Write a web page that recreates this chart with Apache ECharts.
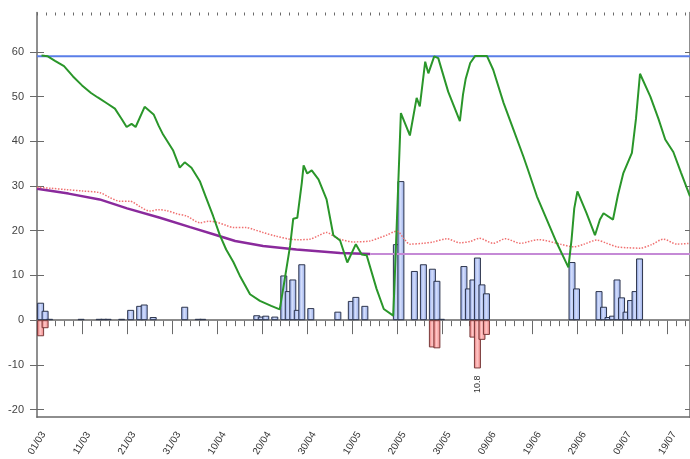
<!DOCTYPE html>
<html><head><meta charset="utf-8">
<script src="https://cdn.jsdelivr.net/npm/echarts@6/dist/echarts.min.js"></script>
<style>html,body{margin:0;padding:0;background:#fff}#c{width:690px;height:459px}</style>
</head><body><div id="c"></div>
<script>
// x values are days counted from 01/03
const xTickDays = [0,10,20,30,40,50,60,70,80,90,100,110,120,130,140];
const yTickValues = [-20,-10,0,10,20,30,40,50,60];

const blueBarDays   = [0,1,2,9,13,14,15,18,20,22,23,25,32,35,36,48,49,50,52,54,55,56,57,58,60,66,69,70,72,79,80,83,85,87,88,89,94,95,96,97,98,99,118,119,124,125,126,127,128,129,130,131,132,133];
const blueBarValues = [3.9,2.1,0.3,0.3,0.3,0.3,0.3,0.3,2.3,3.2,3.5,0.7,3.0,0.3,0.3,1.1,0.8,1.0,0.8,10.0,6.5,9.1,2.3,12.5,2.7,1.9,4.3,5.2,3.2,17.0,31.1,11.0,12.5,11.5,8.8,0.3,12.1,7.1,9.1,14.0,8.0,6.0,13.0,7.1,6.5,3.0,0.7,1.0,9.1,5.1,1.9,4.5,6.5,13.8];

const redBarDays   = [0,1,87,88,96,97,98,99];
const redBarValues = [-3.6,-1.8,-6.1,-6.3,-3.9,-10.8,-4.4,-3.3];
const labelledRedDays = [97];

const maxLevel = 59;

const greenLine = [[1,59.2],[2.4,59],[4,58],[6,56.8],[8,54.5],[10,52.5],[12,50.8],[13.5,49.8],[15.5,48.5],[17.3,47.3],[18.8,45],[19.9,43.2],[21,43.9],[21.9,43.2],[23.9,47.7],[25.9,46],[27,43.5],[28,41.5],[30.2,38],[31.7,34.1],[32.8,35.3],[34.3,34.1],[36.2,31],[37.5,27.5],[39.1,23.3],[40.6,19],[42,15.8],[43.6,13],[45,10],[47.3,5.8],[49.5,4.3],[52,3.2],[53.9,2.4],[55,9.1],[56.2,16.6],[56.9,22.7],[57.8,22.9],[58.8,30.7],[59.2,34.6],[60,32.8],[61,33.5],[62.5,31.5],[64.3,27],[65.8,19],[67.3,17.8],[68.9,12.9],[70.8,17],[72.1,14.7],[73.2,14.5],[75.4,7],[77,2.5],[79.1,1],[79.5,11],[80.2,30],[80.8,46.3],[82.8,41.3],[84.3,49.7],[85,47.8],[86.2,57.8],[86.9,55.2],[88.2,59],[89.1,58.6],[91.3,51.1],[93.9,44.5],[94.6,50.5],[95.2,54],[96.2,57.5],[97.3,59.1],[99.9,59.1],[101.3,56],[103.6,48.6],[105.8,42.6],[108,36.6],[109,33.7],[111,27.7],[113.2,22.5],[115.4,17.3],[118,11.8],[118.7,18],[119.3,25],[120,28.8],[122,24],[123.9,19],[125,22.5],[125.8,23.9],[127.9,22.5],[129,28],[130.2,32.9],[132.1,37.4],[133,45],[133.9,55.1],[136.2,50],[138,45],[139.5,40.4],[141.3,37.6],[143,33],[145,27.7]];

const purpleLine = [[0,29.4],[7,28.3],[13.9,27.0],[20,25],[27.3,22.9],[34,20.8],[39.9,19.0],[44,17.7],[50.2,16.6],[57.6,15.8],[67.3,15.0],[74,14.8]];
const lightPurpleLine = [[74,14.8],[145,14.8]];

const redDottedLine = [[0,29.7],[3,29.5],[6.5,29.2],[10,28.9],[14,28.5],[16,27.5],[18.4,26.6],[20.6,26.6],[23,25.3],[25,24.4],[27,24.7],[28.8,24.5],[31,23.8],[33.2,23.3],[36.2,21.8],[38,22.1],[39.9,21.9],[42,21.2],[43.6,20.7],[46.5,20.7],[48,20.3],[50.2,19.6],[53,18.8],[56.2,18.1],[58,18.0],[60.6,18.1],[62.5,18.9],[64.3,19.6],[66,18.7],[67.3,18.1],[70.2,17.5],[73.9,17.7],[76,18.4],[77.6,19.0],[79.9,19.9],[81.5,18.2],[82.8,17.0],[85.8,17.2],[88,17.5],[91,18.2],[93.9,17.3],[96.2,17.6],[98.2,18.3],[101.3,17.2],[104,18.2],[107.3,17.2],[111.3,18.0],[116.2,17.0],[119.1,16.4],[121.5,17.0],[124.3,17.9],[126.5,17.2],[128.8,16.4],[131,16.2],[133.9,16.1],[136.5,16.9],[139.1,18.1],[142.1,17.0],[145,17.2]];

const X_MIN = 0, X_MAX = 145, Y_MIN = -21.7, Y_MAX = 68.8;
const BAR_SHIFT = 0.8; // a day's bar sits within its day
const base = Date.UTC(2021, 2, 1);
const pad = n => (n < 10 ? '0' : '') + n;
function fmtDay(d) { const t = new Date(base + d * 86400000); return pad(t.getUTCDate()) + '/' + pad(t.getUTCMonth() + 1); }
const minorDays = []; for (let d = 0; d <= 144; d += 2) minorDays.push(d);

const AX = '#6a6a6a';
const blueFill = new echarts.graphic.LinearGradient(0,0,1,0,[{offset:0,color:'#7f98de'},{offset:0.45,color:'#d4defc'},{offset:1,color:'#93a9e8'}]);
const redFill = new echarts.graphic.LinearGradient(0,0,1,0,[{offset:0,color:'#e36a6a'},{offset:0.45,color:'#ffc8c8'},{offset:1,color:'#ec8080'}]);

function tickAxis(pos, offset, vals, len, inside, showLine) {
  return { type:'value', position:pos, offset:offset, min:X_MIN, max:X_MAX,
    axisLine:{show:!!showLine, lineStyle:{color:AX, width:1.5}},
    axisTick:{show:true, customValues:vals, length:len, inside:!!inside, lineStyle:{color:AX, width:1}},
    axisLabel:{show:false}, splitLine:{show:false} };
}

const option = {
  animation:false,
  backgroundColor:'#ffffff',
  grid:{left:37, right:-1, top:12.5, bottom:40.5},
  xAxis:[
    { type:'value', position:'bottom', min:X_MIN, max:X_MAX,
      axisLine:{show:true, onZero:false, lineStyle:{color:AX, width:1.5}},
      axisTick:{show:false},
      axisLabel:{show:true, customValues:xTickDays, formatter:v=>fmtDay(v), rotate:58, align:'center', verticalAlign:'middle', margin:26, fontSize:10, color:'#333', fontFamily:'Liberation Sans, Arial, sans-serif'},
      splitLine:{show:false} },
    tickAxis('bottom', -7, xTickDays, 14, false, false),
    tickAxis('bottom', -3, minorDays, 6, false, false),
    tickAxis('top', 0, xTickDays, 6, true, true),
    tickAxis('top', 0, minorDays, 3, true, false)
  ],
  yAxis:[
    { type:'value', position:'left', min:Y_MIN, max:Y_MAX,
      axisLine:{show:true, onZero:false, lineStyle:{color:AX, width:1.5}},
      axisTick:{show:false},
      axisLabel:{show:true, customValues:yTickValues, margin:13, fontSize:11, color:'#444', fontFamily:'Liberation Sans, Arial, sans-serif'},
      splitLine:{show:false} },
    { type:'value', position:'left', offset:-7, min:Y_MIN, max:Y_MAX,
      axisLine:{show:false}, axisTick:{show:true, customValues:yTickValues, length:14, lineStyle:{color:AX, width:1}},
      axisLabel:{show:false}, splitLine:{show:false} },
    { type:'value', position:'right', min:Y_MIN, max:Y_MAX,
      axisLine:{show:true, onZero:false, lineStyle:{color:AX, width:1.5}},
      axisTick:{show:true, inside:true, customValues:yTickValues, length:5, lineStyle:{color:AX, width:1}},
      axisLabel:{show:false}, splitLine:{show:false} }
  ],
  series:[
    { type:'bar', name:'blue', xAxisIndex:0, yAxisIndex:0, barWidth:7, barGap:'-100%', z:3,
      data: blueBarDays.map((d,i)=>[d+BAR_SHIFT, blueBarValues[i]]),
      itemStyle:{color:blueFill, borderColor:'#2e364d', borderWidth:1} },
    { type:'bar', name:'red', xAxisIndex:0, yAxisIndex:0, barWidth:7, barGap:'-100%', z:3,
      data: redBarDays.map((d,i)=>{
        const item = {value:[d+BAR_SHIFT, redBarValues[i]]};
        if (labelledRedDays.includes(d)) item.label = {show:true, position:'bottom', rotate:90, align:'right', verticalAlign:'middle', distance:7, fontSize:9, color:'#333', formatter:p=>Math.abs(p.value[1]).toFixed(1)};
        return item; }),
      itemStyle:{color:redFill, borderColor:'#7a3b3b', borderWidth:1},
      markLine:{silent:true, symbol:'none', label:{show:false}, animation:false, z:1,
        lineStyle:{color:'#8a8a8a', width:1.5, type:'solid'}, data:[{yAxis:0}]} },
    { type:'line', name:'max', xAxisIndex:0, yAxisIndex:0, symbol:'none',
      data:[[X_MIN,maxLevel],[X_MAX,maxLevel]], lineStyle:{color:'#5a7ee8', width:2} },
    { type:'line', name:'purple', xAxisIndex:0, yAxisIndex:0, symbol:'none',
      data:purpleLine, lineStyle:{color:'#8a2a9c', width:2.5} },
    { type:'line', name:'lightpurple', xAxisIndex:0, yAxisIndex:0, symbol:'none',
      data:lightPurpleLine, lineStyle:{color:'#c58ad6', width:2} },
    { type:'line', name:'reddot', xAxisIndex:0, yAxisIndex:0, symbol:'none', smooth:0.3,
      data:redDottedLine, lineStyle:{color:'#f07070', width:1.5, type:'dotted'} },
    { type:'line', name:'green', xAxisIndex:0, yAxisIndex:0, symbol:'none',
      data:greenLine, lineStyle:{color:'#2a962a', width:2} }
  ]
};
echarts.init(document.getElementById('c'), null, {renderer:'canvas'}).setOption(option);
</script></body></html>
